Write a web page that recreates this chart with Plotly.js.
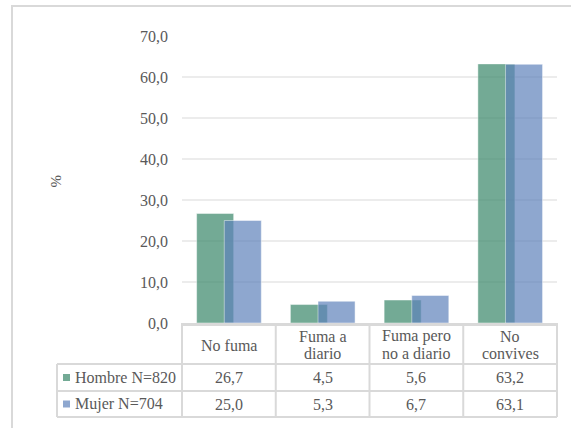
<!DOCTYPE html>
<html>
<head>
<meta charset="utf-8">
<script src="https://cdn.plot.ly/plotly-3.0.1.min.js"></script>
<style>
  html, body { margin: 0; padding: 0; background: #ffffff; overflow: hidden; }
  #wrap { position: relative; width: 571px; height: 428px; overflow: hidden; }
  /* chart area frame: only its top and left edges fall inside the page */
  #frame { position: absolute; left: 11px; top: 5px; width: 700px; height: 600px;
           border-top: 2px solid #d9d9d9; border-left: 2px solid #d9d9d9;
           box-sizing: border-box; z-index: 0; pointer-events: none; }
  #chart { position: absolute; left: 0; top: 0; width: 571px; height: 428px; z-index: 1; }
</style>
</head>
<body>
<div id="wrap">
  <div id="frame"></div>
  <div id="chart"></div>
</div>
<script>
// Convivencia con fumadores, por sexo (%)
const categories = ['No fuma', 'Fuma a\ndiario', 'Fuma pero\nno a diario', 'No\nconvives'];
const seriesNames = ['Hombre N=820', 'Mujer N=704'];
const hombre = [26.7, 4.5, 5.6, 63.2];
const mujer = [25.0, 5.3, 6.7, 63.1];
const yTicks = [0, 10, 20, 30, 40, 50, 60, 70];

const seriesValues = [hombre, mujer];
const seriesColors = ['rgba(68,141,114,0.75)', 'rgba(94,130,186,0.7)'];
const barOffsets = [-0.344, -0.049];
const barWidth = 0.395;

// page geometry (pixels) and helpers to express it in paper units
const W = 571, H = 428;
const M = { l: 182, r: 14, t: 36, b: 105 };
const plotW = W - M.l - M.r;
const plotH = H - M.t - M.b;
const px2x = p => (p - M.l) / plotW;
const px2y = p => (H - M.b - p) / plotH;

const FONT = 'Liberation Serif, Times New Roman, serif';
const TEXT = '#595959';
const RULE = '#d9d9d9';
const fmt = v => v.toFixed(1).replace('.', ',');

const xIdx = categories.map((_, i) => i);

const traces = seriesValues.map((vals, s) => ({
  type: 'bar',
  name: seriesNames[s],
  x: xIdx,
  y: vals,
  width: barWidth,
  offset: barOffsets[s],
  marker: { color: seriesColors[s], line: { color: 'rgba(255,255,255,0.45)', width: 1 } },
  hoverinfo: 'skip'
}));

// data table under the plot
const headerBottom = 364, row1Bottom = 391, row2Bottom = 417;
const legendLeft = 57;
const rowCenters = [(headerBottom + row1Bottom) / 2, (row1Bottom + row2Bottom) / 2];

const shapes = [];
// horizontal table rules
[headerBottom, row1Bottom, row2Bottom].forEach(p => shapes.push({
  type: 'line', xref: 'paper', yref: 'paper',
  x0: px2x(legendLeft), x1: 1, y0: px2y(p), y1: px2y(p),
  line: { color: RULE, width: 2 }
}));
// vertical rules at category boundaries
for (let k = 0; k <= categories.length; k++) {
  const xp = k / categories.length;
  shapes.push({
    type: 'line', xref: 'paper', yref: 'paper',
    x0: xp, x1: xp, y0: px2y(row2Bottom), y1: 0,
    line: { color: RULE, width: 2 }
  });
}
// left edge of the legend column
shapes.push({
  type: 'line', xref: 'paper', yref: 'paper',
  x0: px2x(legendLeft), x1: px2x(legendLeft), y0: px2y(row2Bottom), y1: px2y(headerBottom),
  line: { color: RULE, width: 2 }
});
// legend keys
rowCenters.forEach((c, s) => shapes.push({
  type: 'rect', xref: 'paper', yref: 'paper',
  x0: px2x(63), x1: px2x(70), y0: px2y(c + 3.5), y1: px2y(c - 3.5),
  line: { width: 0 }, fillcolor: seriesColors[s]
}));

const annotations = [];
// y-axis title
annotations.push({
  text: '%', xref: 'paper', yref: 'paper', x: px2x(55.5), y: 0.495,
  textangle: -90, showarrow: false, xanchor: 'center', yanchor: 'middle',
  font: { family: FONT, size: 15, color: TEXT }
});
// header row: category names
const headerCenter = 345, lineGap = 17.5;
categories.forEach((cat, i) => {
  const lines = cat.split('\n');
  lines.forEach((ln, j) => {
    const yc = headerCenter + (j - (lines.length - 1) / 2) * lineGap;
    annotations.push({
      text: ln, xref: 'x', yref: 'paper', x: i, y: px2y(yc),
      showarrow: false, xanchor: 'center', yanchor: 'middle',
      font: { family: FONT, size: 16, color: TEXT }
    });
  });
});
// series rows
seriesValues.forEach((vals, s) => {
  annotations.push({
    text: seriesNames[s], xref: 'paper', yref: 'paper', x: px2x(73), y: px2y(rowCenters[s]),
    showarrow: false, xanchor: 'left', yanchor: 'middle',
    font: { family: FONT, size: 16, color: TEXT }
  });
  vals.forEach((v, i) => annotations.push({
    text: fmt(v), xref: 'x', yref: 'paper', x: i, y: px2y(rowCenters[s]),
    showarrow: false, xanchor: 'center', yanchor: 'middle',
    font: { family: FONT, size: 16, color: TEXT }
  }));
});

const layout = {
  width: W, height: H,
  margin: M,
  paper_bgcolor: 'rgba(0,0,0,0)', plot_bgcolor: 'rgba(0,0,0,0)',
  separators: ',.',
  showlegend: false,
  barmode: 'overlay',
  font: { family: FONT, size: 16, color: TEXT },
  xaxis: {
    type: 'linear', range: [-0.5, categories.length - 0.5],
    showticklabels: false, showgrid: false, zeroline: false,
    showline: true, linecolor: RULE, linewidth: 2.5, ticks: ''
  },
  yaxis: {
    range: [0, 70], tickmode: 'array', tickvals: yTicks, tickformat: '.1f',
    showgrid: true, gridcolor: '#ececec', gridwidth: 2,
    zeroline: false, showline: false, ticks: '',
    ticklabelstandoff: 13,
    tickfont: { family: FONT, size: 16, color: TEXT }
  },
  shapes: shapes,
  annotations: annotations
};

Plotly.newPlot('chart', traces, layout, { displayModeBar: false });
</script>
</body>
</html>
